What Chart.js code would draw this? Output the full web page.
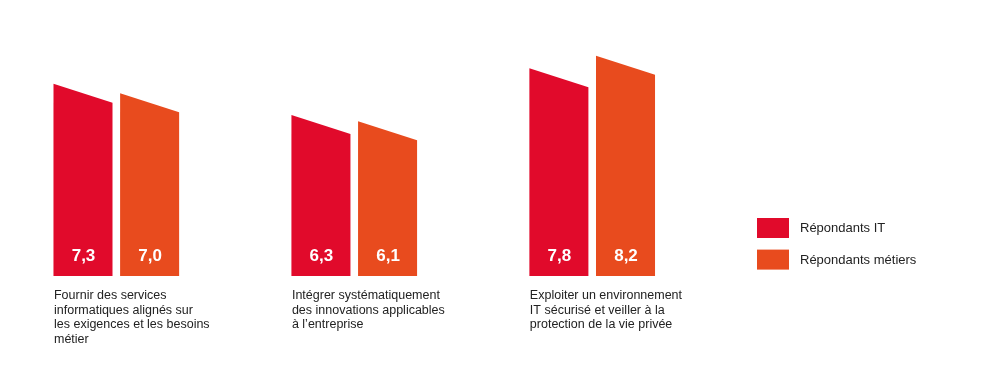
<!DOCTYPE html>
<html>
<head>
<meta charset="utf-8">
<script src="https://cdn.jsdelivr.net/npm/chart.js@4/dist/chart.umd.min.js"></script>
<style>
  html, body { margin: 0; padding: 0; background: #ffffff; }
  #wrap { width: 1000px; height: 381px; position: relative; }
</style>
</head>
<body>
<div id="wrap"><canvas id="c"></canvas></div>
<script>
const categories = [
  ["Fournir des services", "informatiques alignés sur", "les exigences et les besoins", "métier"],
  ["Intégrer systématiquement", "des innovations applicables", "à l’entreprise"],
  ["Exploiter un environnement", "IT sécurisé et veiller à la", "protection de la vie privée"]
];
const seriesNames = ["Répondants IT", "Répondants métiers"];
const itValues = [7.3, 6.3, 7.8];
const metierValues = [7.0, 6.1, 8.2];
const seriesColors = ["#E10A2B", "#E84B1E"];
const axisMin = 1.16;
const axisMax = 9.658;

const FONT = "'Liberation Sans', Arial, Helvetica, sans-serif";
const SLANT = 19;

const slantedBars = {
  id: 'slantedBars',
  afterDatasetsDraw(chart) {
    const ctx = chart.ctx;
    const yScale = chart.scales.y;
    const base = yScale.getPixelForValue(yScale.min);
    ctx.save();
    chart.data.datasets.forEach((ds, di) => {
      const meta = chart.getDatasetMeta(di);
      meta.data.forEach((bar, i) => {
        const p = bar.getProps(['x', 'y', 'width'], true);
        const l = p.x - p.width / 2, r = p.x + p.width / 2;
        ctx.beginPath();
        ctx.moveTo(l, base);
        ctx.lineTo(l, p.y);
        ctx.lineTo(r, p.y + SLANT);
        ctx.lineTo(r, base);
        ctx.closePath();
        ctx.fillStyle = seriesColors[di];
        ctx.fill();
        ctx.fillStyle = '#ffffff';
        ctx.font = 'bold 17px ' + FONT;
        ctx.textAlign = 'center';
        ctx.textBaseline = 'alphabetic';
        ctx.fillText(ds.data[i].toFixed(1).replace('.', ','), p.x + 0.5, base - 15);
      });
    });
    const meta0 = chart.getDatasetMeta(0);
    ctx.fillStyle = '#222222';
    ctx.font = '12.5px ' + FONT;
    ctx.textAlign = 'left';
    ctx.textBaseline = 'alphabetic';
    chart.data.labels.forEach((lines, i) => {
      const p = meta0.data[i].getProps(['x', 'width'], true);
      const x0 = p.x - p.width / 2 + 0.5;
      lines.forEach((line, k) => {
        ctx.fillText(line, x0, base + 23 + k * 14.6);
      });
    });
    const lx = 757, ly = 218;
    chart.data.datasets.forEach((ds, di) => {
      const y = ly + di * 31.6;
      ctx.fillStyle = seriesColors[di];
      ctx.fillRect(lx, y, 32, 20);
      ctx.fillStyle = '#222222';
      ctx.font = '13px ' + FONT;
      ctx.textAlign = 'left';
      ctx.textBaseline = 'middle';
      ctx.fillText(ds.label, 800, y + 10.5);
    });
    ctx.restore();
  }
};

new Chart(document.getElementById('c'), {
  type: 'bar',
  data: {
    labels: categories,
    datasets: [
      { label: seriesNames[0], data: itValues, backgroundColor: 'rgba(0,0,0,0)' },
      { label: seriesNames[1], data: metierValues, backgroundColor: 'rgba(0,0,0,0)' }
    ]
  },
  options: {
    responsive: true,
    maintainAspectRatio: false,
    animation: false,
    events: [],
    layout: { padding: { left: 116.3, right: 407.8, top: 10, bottom: 105 } },
    datasets: { bar: { categoryPercentage: 0.56, barPercentage: 0.886, clip: false } },
    scales: {
      x: { display: false, offset: false, grid: { display: false } },
      y: { display: false, min: axisMin, max: axisMax, grid: { display: false } }
    },
    plugins: {
      legend: { display: false },
      tooltip: { enabled: false }
    }
  },
  plugins: [slantedBars]
});
</script>
</body>
</html>
